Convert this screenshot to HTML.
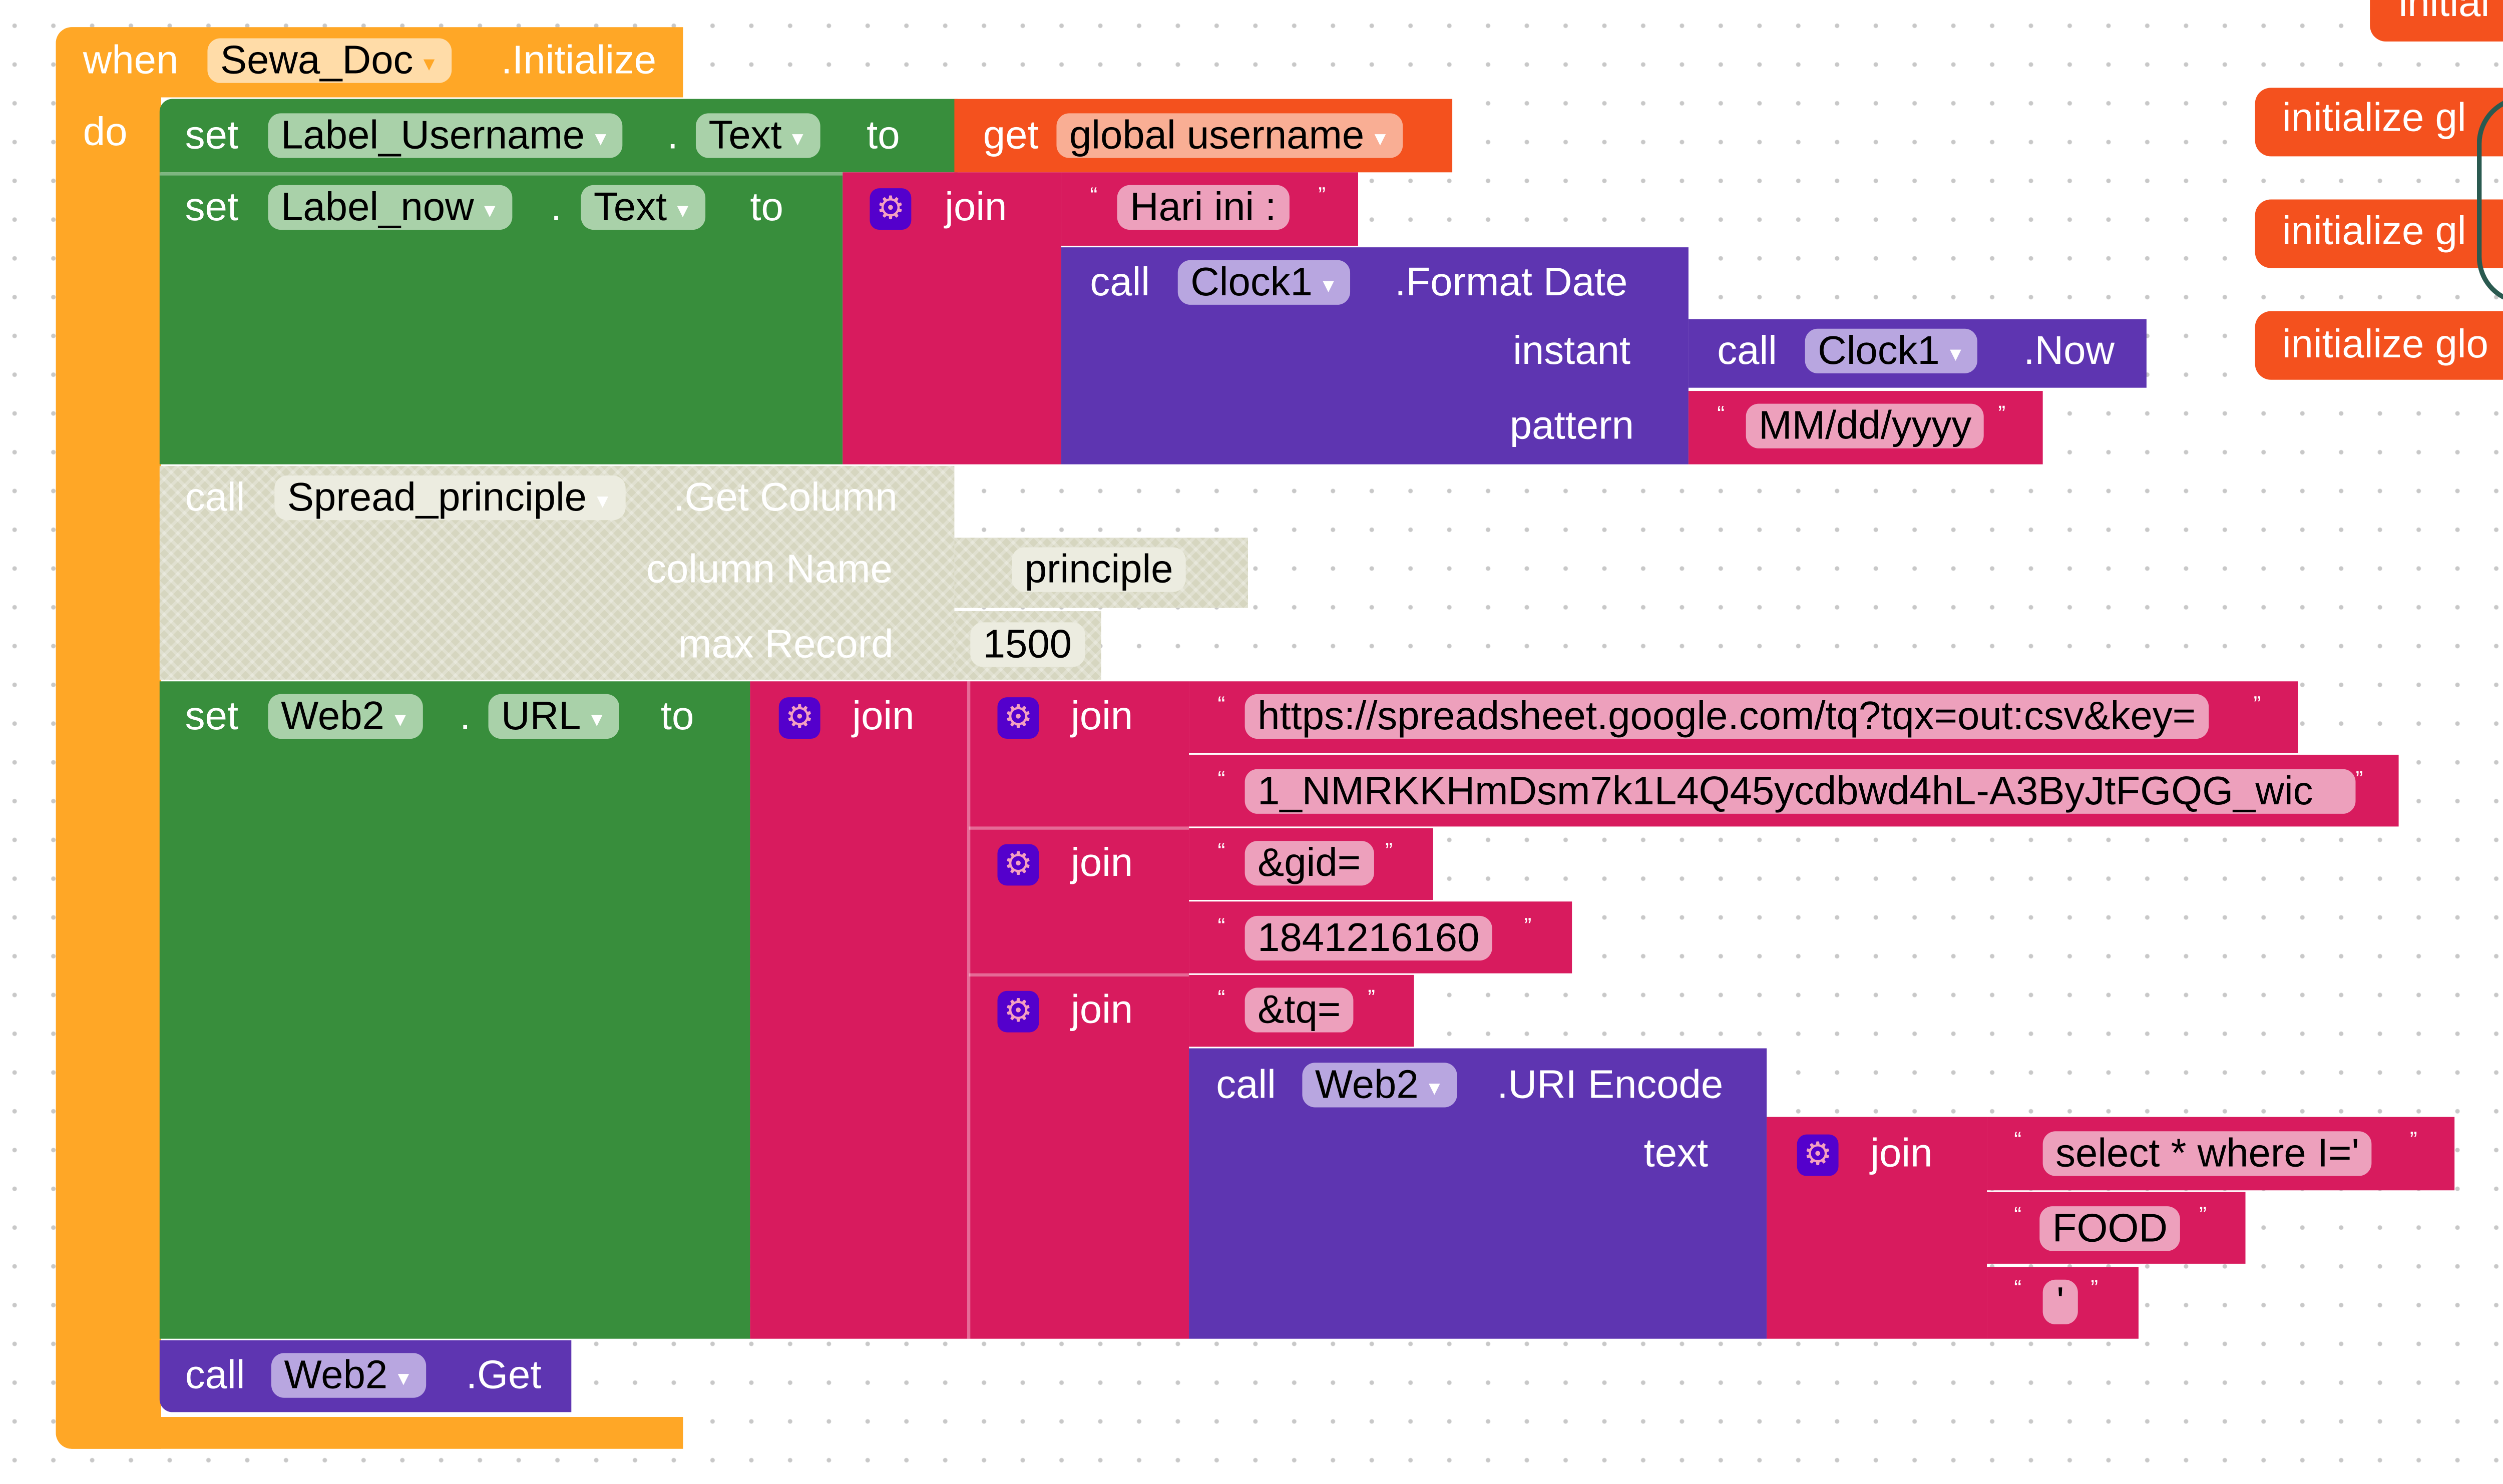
<!DOCTYPE html>
<html><head><meta charset="utf-8"><style>
html,body{margin:0;padding:0;width:5089px;height:2959px;overflow:hidden;background:#fff}
#c{position:absolute;left:0;top:0;width:1600px;height:930px;transform:scale(3.188,3.188);transform-origin:0 0;
background-color:#fff;background-image:radial-gradient(circle,#c8c8c8 1.2px,transparent 1.6px);background-size:24.3px 24.3px;background-position:-3px 4px;
font-family:"Liberation Sans Narrow","Liberation Sans",sans-serif;font-size:25px}
.b{position:absolute}
.t{position:absolute;color:#fff;white-space:nowrap;line-height:28px}
.f{position:absolute;border-radius:8px;color:#000;white-space:nowrap;line-height:28px;height:28px;padding:0 8px;box-sizing:border-box}
.o{background:#FFA726}.g{background:#388E3C}.m{background:#D81B5E}.p{background:#5E35B1}.r{background:#F4511E}
.fo{background:#FFDCA8}.fg{background:#A9D1A9}.fm{background:#EDA0BC}.fp{background:#B8A6E0}.fr{background:#F9AE94}
.dd{font-size:12px;color:#fff;margin-left:4px;vertical-align:2px}
.gear{position:absolute;width:26px;height:26px;border-radius:6px;background:#5400CC;color:#f4a0c0;font-size:20px;line-height:26px;text-align:center}
.q{position:absolute;color:#fff;font-size:14px}
.sep{position:absolute;height:1.5px;background:rgba(255,255,255,.35)}
.dis{background-color:#d6d6c0;background-image:repeating-linear-gradient(45deg,rgba(255,255,255,.25) 0 2px,transparent 2px 6px),repeating-linear-gradient(-45deg,rgba(255,255,255,.25) 0 2px,transparent 2px 6px)}
</style></head><body><div id="c">

<div class="b o" style="left:35px;top:17px;width:393px;height:44px;border-radius:10px 0 0 0"></div>
<div class="b o" style="left:35px;top:17px;width:66px;height:891px;border-radius:10px 0 0 10px"></div>
<div class="b o" style="left:35px;top:888px;width:393px;height:20px;border-radius:0 0 0 10px"></div>
<div class="t" style="left:52px;top:24px">when</div>
<div class="f fo" style="left:130px;top:24px">Sewa_Doc<span class="dd" style="color:#FFA726">▼</span></div>
<div class="t" style="left:314px;top:24px">.Initialize</div>
<div class="t" style="left:52px;top:69px">do</div>

<div class="b g" style="left:100px;top:62px;width:500px;height:46px;border-radius:8px 0 0 0"></div>
<div class="t" style="left:116px;top:71px">set</div>
<div class="f fg" style="left:168px;top:71px">Label_Username<span class="dd">▼</span></div>
<div class="t" style="left:418px;top:71px">.</div>
<div class="f fg" style="left:436px;top:71px">Text<span class="dd">▼</span></div>
<div class="t" style="left:543px;top:71px">to</div>
<div class="b r" style="left:598px;top:62px;width:312px;height:46px"></div>
<div class="t" style="left:616px;top:71px">get</div>
<div class="f fr" style="left:662px;top:71px">global username<span class="dd">▼</span></div>

<div class="b g" style="left:100px;top:108px;width:428px;height:183px"></div>
<div class="sep" style="left:100px;top:108px;width:428px"></div>
<div class="t" style="left:116px;top:116px">set</div>
<div class="f fg" style="left:168px;top:116px">Label_now<span class="dd">▼</span></div>
<div class="t" style="left:345px;top:116px">.</div>
<div class="f fg" style="left:364px;top:116px">Text<span class="dd">▼</span></div>
<div class="t" style="left:470px;top:116px">to</div>
<div class="b m" style="left:528px;top:108px;width:137px;height:183px"></div>
<div class="gear" style="left:545px;top:118px">⚙</div>
<div class="t" style="left:592px;top:116px">join</div>
<div class="b m" style="left:665px;top:108px;width:186px;height:46px"></div>
<div class="q" style="left:683px;top:114px">“</div>
<div class="f fm" style="left:700px;top:116px">Hari ini :</div>
<div class="q" style="left:826px;top:114px">”</div>
<div class="b p" style="left:665px;top:155px;width:393px;height:136px"></div>
<div class="t" style="left:683px;top:163px">call</div>
<div class="f fp" style="left:738px;top:163px">Clock1<span class="dd">▼</span></div>
<div class="t" style="left:874px;top:163px">.Format Date</div>
<div class="t" style="left:948px;top:206px">instant</div>
<div class="t" style="left:946px;top:253px">pattern</div>
<div class="b p" style="left:1058px;top:200px;width:287px;height:43px"></div>
<div class="t" style="left:1076px;top:206px">call</div>
<div class="f fp" style="left:1131px;top:206px">Clock1<span class="dd">▼</span></div>
<div class="t" style="left:1268px;top:206px">.Now</div>
<div class="b m" style="left:1058px;top:245px;width:222px;height:46px"></div>
<div class="q" style="left:1076px;top:251px">“</div>
<div class="f fm" style="left:1094px;top:253px">MM/dd/yyyy</div>
<div class="q" style="left:1252px;top:251px">”</div>

<div class="b dis" style="left:100px;top:292px;width:498px;height:134px"></div>
<div class="b dis" style="left:598px;top:337px;width:184px;height:44px"></div>
<div class="b dis" style="left:598px;top:383px;width:92px;height:43px"></div>
<div class="t" style="left:116px;top:298px">call</div>
<div class="f" style="left:172px;top:298px;background:#ecece0">Spread_principle<span class="dd">▼</span></div>
<div class="t" style="left:422px;top:298px">.Get Column</div>
<div class="t" style="left:405px;top:343px">column Name</div>
<div class="t" style="left:425px;top:390px">max Record</div>
<div class="f" style="left:634px;top:343px;background:#ecece0">principle</div>
<div class="f" style="left:608px;top:390px;background:#ecece0">1500</div>

<div class="b g" style="left:100px;top:427px;width:370px;height:412px"></div>
<div class="t" style="left:116px;top:435px">set</div>
<div class="f fg" style="left:168px;top:435px">Web2<span class="dd">▼</span></div>
<div class="t" style="left:288px;top:435px">.</div>
<div class="f fg" style="left:306px;top:435px">URL<span class="dd">▼</span></div>
<div class="t" style="left:414px;top:435px">to</div>
<div class="b m" style="left:470px;top:427px;width:137px;height:412px"></div>
<div class="gear" style="left:488px;top:437px">⚙</div>
<div class="t" style="left:534px;top:435px">join</div>
<div class="b m" style="left:607px;top:427px;width:138px;height:412px"></div>
<div class="sep" style="left:607px;top:518px;width:138px"></div>
<div class="sep" style="left:607px;top:610px;width:138px"></div>
<div class="b" style="left:606px;top:427px;width:1.5px;height:412px;background:rgba(255,255,255,.35)"></div>
<div class="gear" style="left:625px;top:437px">⚙</div>
<div class="t" style="left:671px;top:435px">join</div>
<div class="gear" style="left:625px;top:529px">⚙</div>
<div class="t" style="left:671px;top:527px">join</div>
<div class="gear" style="left:625px;top:621px">⚙</div>
<div class="t" style="left:671px;top:619px">join</div>

<div class="b m" style="left:745px;top:427px;width:695px;height:45px"></div>
<div class="q" style="left:763px;top:433px">“</div>
<div class="f fm" style="left:780px;top:435px">https://spreadsheet.google.com/tq?tqx=out:csv&amp;key=</div>
<div class="q" style="left:1412px;top:433px">”</div>
<div class="b m" style="left:745px;top:473px;width:758px;height:45px"></div>
<div class="q" style="left:763px;top:480px">“</div>
<div class="f fm" style="left:780px;top:482px;width:696px;overflow:hidden">1_NMRKKHmDsm7k1L4Q45ycdbwd4hL-A3ByJtFGQG_wic</div>
<div class="q" style="left:1476px;top:480px">”</div>

<div class="b m" style="left:745px;top:519px;width:153px;height:45px"></div>
<div class="q" style="left:763px;top:525px">“</div>
<div class="f fm" style="left:780px;top:527px">&amp;gid=</div>
<div class="q" style="left:868px;top:525px">”</div>
<div class="b m" style="left:745px;top:565px;width:240px;height:45px"></div>
<div class="q" style="left:763px;top:572px">“</div>
<div class="f fm" style="left:780px;top:574px">1841216160</div>
<div class="q" style="left:955px;top:572px">”</div>

<div class="b m" style="left:745px;top:611px;width:141px;height:45px"></div>
<div class="q" style="left:763px;top:617px">“</div>
<div class="f fm" style="left:780px;top:619px">&amp;tq=</div>
<div class="q" style="left:857px;top:617px">”</div>
<div class="b p" style="left:745px;top:657px;width:362px;height:182px"></div>
<div class="t" style="left:762px;top:666px">call</div>
<div class="f fp" style="left:816px;top:666px">Web2<span class="dd">▼</span></div>
<div class="t" style="left:938px;top:666px">.URI Encode</div>
<div class="t" style="left:1030px;top:709px">text</div>
<div class="b m" style="left:1107px;top:700px;width:138px;height:139px"></div>
<div class="gear" style="left:1126px;top:711px">⚙</div>
<div class="t" style="left:1172px;top:709px">join</div>
<div class="b m" style="left:1245px;top:700px;width:293px;height:46px"></div>
<div class="q" style="left:1262px;top:706px">“</div>
<div class="f fm" style="left:1280px;top:709px">select * where I='</div>
<div class="q" style="left:1510px;top:706px">”</div>
<div class="b m" style="left:1245px;top:747px;width:162px;height:45px"></div>
<div class="q" style="left:1262px;top:753px">“</div>
<div class="f fm" style="left:1278px;top:756px">FOOD</div>
<div class="q" style="left:1378px;top:753px">”</div>
<div class="b m" style="left:1245px;top:794px;width:95px;height:45px"></div>
<div class="q" style="left:1262px;top:799px">“</div>
<div class="f fm" style="left:1280px;top:802px;width:22px;padding:0;text-align:center">'</div>
<div class="q" style="left:1310px;top:799px">”</div>

<div class="b p" style="left:100px;top:840px;width:258px;height:45px;border-radius:0 0 0 8px"></div>
<div class="t" style="left:116px;top:848px">call</div>
<div class="f fp" style="left:170px;top:848px">Web2<span class="dd">▼</span></div>
<div class="t" style="left:292px;top:848px">.Get</div>

<div class="b r" style="left:1485px;top:-10px;width:120px;height:36px;border-radius:10px"></div>
<div class="t" style="left:1503px;top:-12px">initial</div>
<div class="b r" style="left:1413px;top:55px;width:200px;height:43px;border-radius:10px"></div>
<div class="t" style="left:1430px;top:60px">initialize gl</div>
<div class="b r" style="left:1413px;top:125px;width:200px;height:43px;border-radius:10px"></div>
<div class="t" style="left:1430px;top:131px">initialize gl</div>
<div class="b r" style="left:1413px;top:195px;width:200px;height:43px;border-radius:10px"></div>
<div class="t" style="left:1430px;top:202px">initialize glo</div>
<div class="b" style="left:1552px;top:60px;width:30px;height:125px;border:3px solid #2a5a50;border-radius:30px 0 0 30px;border-right:none"></div>
</div></body></html>
